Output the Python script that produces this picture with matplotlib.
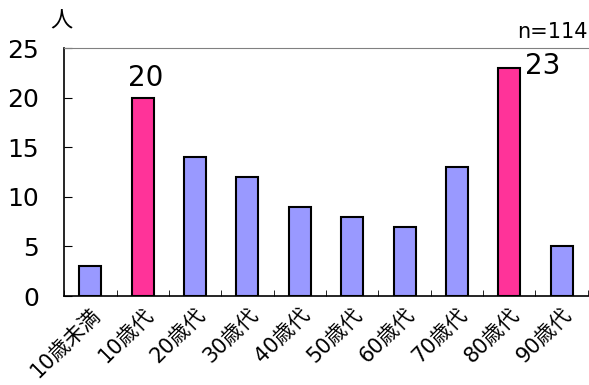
import matplotlib
matplotlib.use("Agg")
from matplotlib import pyplot as plt
import numpy as np

plt.rcParams["font.family"] = ["DejaVu Sans", "Noto Sans CJK JP"]

categories = ["10歳未満", "10歳代", "20歳代", "30歳代", "40歳代",
              "50歳代", "60歳代", "70歳代", "80歳代", "90歳代"]
counts = [3, 20, 14, 12, 9, 8, 7, 13, 23, 5]
highlight = [False, True, False, False, False, False, False, False, True, False]

blue = "#9999FF"
pink = "#FF3399"

fig = plt.figure(figsize=(5.89, 3.85), dpi=100)
ax = fig.add_axes([0.109, 0.231, 0.889, 0.644])

x = np.arange(len(categories))
colors = [pink if h else blue for h in highlight]
ax.bar(x, counts, width=0.42, color=colors, edgecolor="black", linewidth=1.5)

ax.set_xlim(-0.5, len(categories) - 0.5)
ax.set_ylim(0, 25)
ax.set_yticks([0, 5, 10, 15, 20, 25])
ax.tick_params(axis="y", direction="in", length=6, labelsize=18, pad=18)
ax.set_xticks(x)
ax.set_xticklabels(categories, rotation=45, ha="right", rotation_mode="anchor", fontsize=15)
ax.tick_params(axis="x", which="major", length=0, pad=6)
ax.set_xticks(np.arange(len(categories) + 1) - 0.5, minor=True)
ax.tick_params(axis="x", which="minor", direction="in", length=4)

ax.spines["right"].set_visible(False)
ax.spines["top"].set_color("#808080")
ax.spines["left"].set_linewidth(1.2)
ax.spines["bottom"].set_linewidth(1.2)

ax.text(1.05, 20.6, "20", ha="center", va="bottom", fontsize=20)
ax.text(8.3, 23.2, "23", ha="left", va="center", fontsize=20)
fig.text(0.998, 0.918, "n=114", ha="right", va="center", fontsize=15)
fig.text(0.105, 0.945, "人", ha="center", va="center", fontsize=16)

fig.savefig("out.png", dpi=100)
